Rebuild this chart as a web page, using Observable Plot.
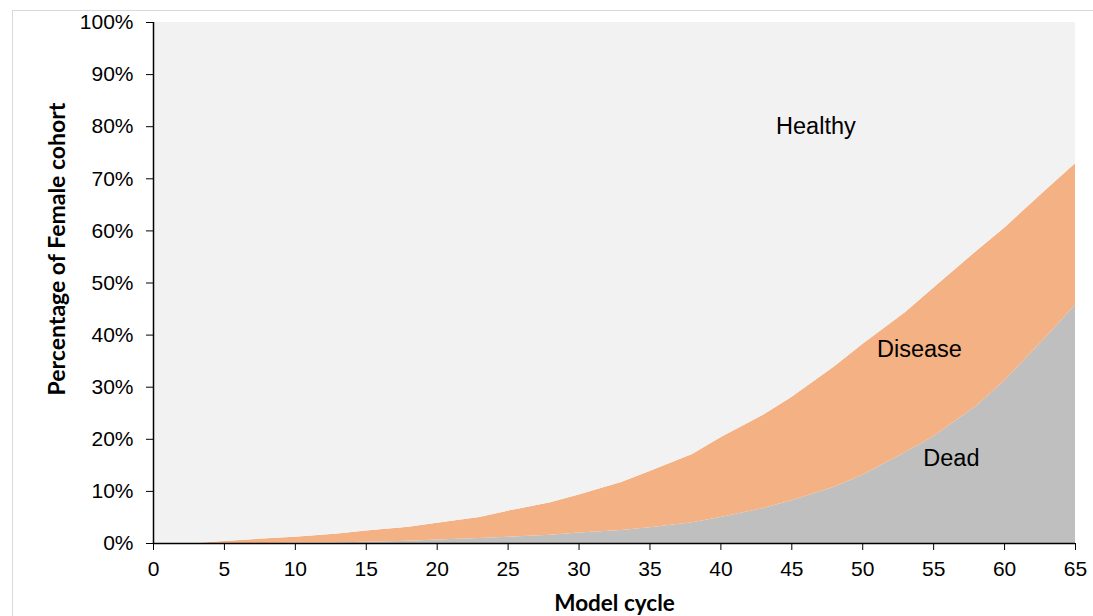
<!DOCTYPE html>
<html>
<head>
<meta charset="utf-8">
<script src="https://cdn.jsdelivr.net/npm/d3@7"></script>
<script src="https://cdn.jsdelivr.net/npm/@observablehq/plot@0.6"></script>
<style>
  html, body { margin: 0; padding: 0; background: #fff; }
  #wrap { position: relative; width: 1093px; height: 616px; overflow: hidden; }
  #frame { position: absolute; left: 12px; top: 10px; width: 1100px; height: 700px; border: 1px solid #d9d9d9; box-sizing: border-box; }
  #chart { position: absolute; left: 0; top: 0; }
</style>
</head>
<body>
<div id="wrap"><div id="frame"></div><div id="chart"></div></div>
<script>
// Model cycles at which values were read
const cycles = [0, 3, 5, 8, 10, 13, 15, 18, 20, 23, 25, 28, 30, 33, 35, 38, 40, 43, 45, 48, 50, 53, 55, 58, 60, 63, 65];
// Percentage of cohort that is dead
const deadPct = [0, 0, 0, 0, 0.05, 0.15, 0.25, 0.45, 0.65, 0.95, 1.2, 1.6, 2.0, 2.5, 3.0, 4.0, 5.0, 6.7, 8.2, 10.8, 13.1, 17.4, 20.5, 26.3, 31.2, 39.8, 45.8];
// Percentage of cohort dead or diseased (cumulative top of Disease band)
const deadOrDiseasePct = [0, 0, 0.4, 0.9, 1.2, 1.8, 2.4, 3.1, 3.9, 5.0, 6.2, 7.8, 9.3, 11.7, 13.8, 17.1, 20.3, 24.6, 28.0, 33.9, 38.2, 44.3, 49.0, 56.0, 60.5, 68.0, 72.9];
const states = ["Dead", "Disease", "Healthy"];
const stateColors = ["#bfbfbf", "#f4b183", "#f2f2f2"];
const yTicks = [0, 10, 20, 30, 40, 50, 60, 70, 80, 90, 100];
const xTicks = [0, 5, 10, 15, 20, 25, 30, 35, 40, 45, 50, 55, 60, 65];
const xTitle = "Model cycle";
const yTitle = "Percentage of Female cohort";
// In-chart labels (data coordinates)
const labelText = ["Healthy", "Disease", "Dead"];
const labelCycle = [46.7, 54.0, 56.25];
const labelPct = [80, 37.2, 16.4];

const rows = [];
cycles.forEach((c, i) => {
  const dead = deadPct[i];
  const disease = deadOrDiseasePct[i] - deadPct[i];
  const healthy = 100 - deadOrDiseasePct[i];
  rows.push({cycle: c, state: "Dead", value: dead});
  rows.push({cycle: c, state: "Disease", value: disease});
  rows.push({cycle: c, state: "Healthy", value: healthy});
});
const labels = labelText.map((t, i) => ({t, x: labelCycle[i], y: labelPct[i]}));
const titleFont = "Lato, 'Open Sans', sans-serif";

const chart = Plot.plot({
  width: 1093,
  height: 616,
  marginLeft: 153,
  marginRight: 18,
  marginTop: 22,
  marginBottom: 73,
  style: {fontFamily: "'Liberation Sans', Arial, sans-serif", fontSize: "21px", color: "#000", background: "transparent", overflow: "visible"},
  x: {domain: [0, 65]},
  y: {domain: [0, 100]},
  color: {domain: states, range: stateColors},
  marks: [
    Plot.areaY(rows, {x: "cycle", y: "value", z: "state", fill: "state", order: states}),
    Plot.axisY({ticks: yTicks, tickFormat: d => d + "%", tickSize: 7, tickPadding: 13, stroke: "#000", strokeOpacity: 1,
      label: null, fontSize: 21}),
    Plot.axisX({ticks: xTicks, tickSize: 7, tickPadding: 11, strokeOpacity: 1,
      label: null, fontSize: 21}),
    Plot.ruleX([0], {stroke: "#000", strokeWidth: 1.5}),
    Plot.ruleY([0], {stroke: "#000", strokeWidth: 1.5}),
    Plot.text([yTitle], {frameAnchor: "left", textAnchor: "middle", lineAnchor: "middle", rotate: -90, dx: -96, dy: -34, fontSize: 23, fontWeight: "bold", fontFamily: titleFont, fill: "#000"}),
    Plot.text([xTitle], {frameAnchor: "bottom", textAnchor: "middle", lineAnchor: "middle", dy: 60, fontSize: 22.5, fontWeight: "bold", fontFamily: titleFont, fill: "#000"}),
    Plot.text(labels, {x: "x", y: "y", text: "t", fontSize: 23.5, fill: "#000"})
  ]
});
document.getElementById("chart").appendChild(chart);
</script>
</body>
</html>
